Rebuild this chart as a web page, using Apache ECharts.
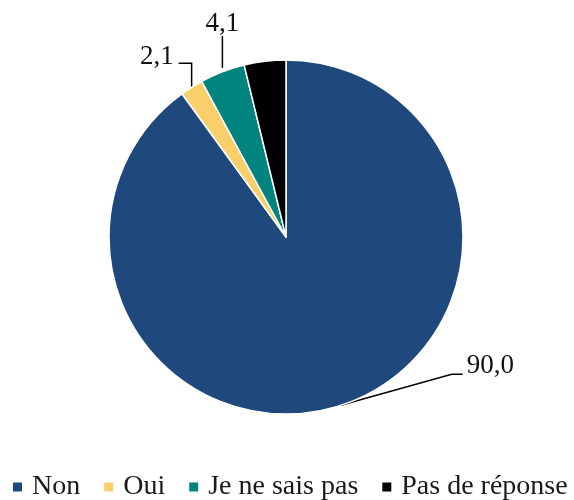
<!DOCTYPE html>
<html>
<head>
<meta charset="utf-8">
<script src="https://cdn.jsdelivr.net/npm/echarts@6/dist/echarts.min.js"></script>
<style>
  html, body { margin: 0; padding: 0; background: #fff; }
  #chart { width: 574px; height: 500px; }
</style>
</head>
<body>
<div id="chart"></div>
<script>
// réponses (%)
var categories = ['Non', 'Oui', 'Je ne sais pas', 'Pas de réponse'];
var values = [90.0, 2.1, 4.1, 3.8];
var colors = ['#1F487C', '#F9CF6B', '#00847D', '#000000'];

var font = 'Liberation Serif';

function fmt(v) {
  return v.toFixed(1).replace('.', ',');
}

// placement des étiquettes à la manière d'Excel, à partir du point de bord calculé par ECharts
function placeLabel(params) {
  if (!params.labelLinePoints) return {};
  var p0 = params.labelLinePoints[0];
  var i = params.dataIndex;
  if (i === 0) {
    var p1 = [p0[0] + 111, p0[1] - 31];
    var p2 = [p1[0] + 11, p1[1]];
    return { x: p2[0] + 4, y: p2[1] - 8, align: 'left', verticalAlign: 'middle', labelLinePoints: [p0, p1, p2] };
  }
  if (i === 1) {
    var q1 = [p0[0], p0[1] - 24];
    var q2 = [q1[0] - 13, q1[1]];
    return { x: q2[0] - 5, y: q2[1] - 6, align: 'right', verticalAlign: 'middle', labelLinePoints: [p0, q1, q2] };
  }
  if (i === 2) {
    var s = [p0[0], p0[1] - 4];
    var s1 = [s[0], s[1] - 32];
    return { x: s1[0], y: s1[1] - 12, align: 'center', verticalAlign: 'middle', labelLinePoints: [s, s1, s1] };
  }
  return {};
}

var chart = echarts.init(document.getElementById('chart'), null, { renderer: 'canvas' });

var data = categories.map(function (c, i) {
  return {
    name: c,
    value: values[i],
    itemStyle: { color: colors[i] },
    label: { show: i < 3 },
    labelLine: { show: i < 3 }
  };
});

chart.setOption({
  backgroundColor: '#ffffff',
  animation: false,
  legend: {
    data: categories,
    left: 11,
    top: 473,
    padding: 0,
    orient: 'horizontal',
    icon: 'rect',
    itemWidth: 11,
    itemHeight: 11,
    itemGap: 22,
    textStyle: {
      fontFamily: font,
      fontSize: 28,
      color: '#1a1a1a',
      padding: [0, 0, 0, 4]
    }
  },
  series: [
    {
      name: 'Réponse',
      type: 'pie',
      center: [286, 237],
      radius: [0, 177],
      startAngle: 90,
      clockwise: true,
      avoidLabelOverlap: false,
      itemStyle: {
        borderColor: '#ffffff',
        borderWidth: 1.5
      },
      label: {
        position: 'outside',
        fontFamily: font,
        fontSize: 27,
        color: '#111111',
        formatter: function (p) { return fmt(p.value); }
      },
      labelLine: {
        length: 10,
        length2: 10,
        lineStyle: { color: '#000000', width: 1.5 }
      },
      labelLayout: placeLabel,
      data: data
    }
  ]
});
</script>
</body>
</html>
